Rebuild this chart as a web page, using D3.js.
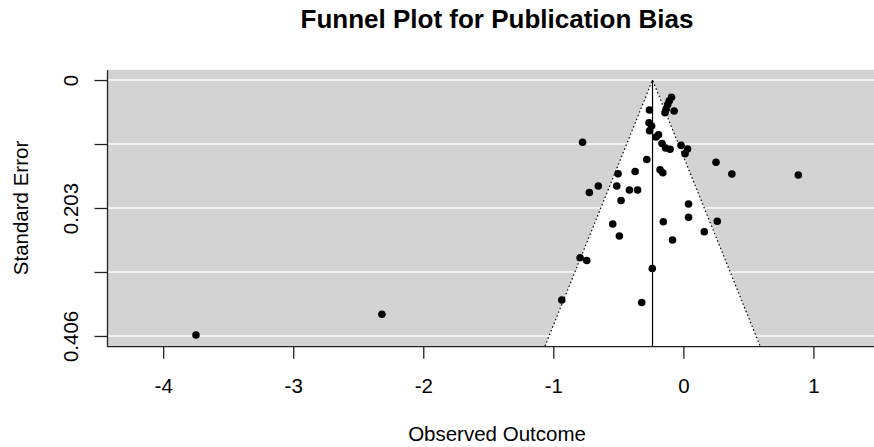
<!DOCTYPE html>
<html lang="en">
    <head>
        <meta charset="UTF-8" />
        <title>Funnel Plot for Publication Bias</title>
        <script src="https://cdn.jsdelivr.net/npm/d3@7/dist/d3.min.js"></script>
        <style>
            body { margin: 0; padding: 0; background: #fff; }
            text { font-family: 'Liberation Sans', Arial, sans-serif; fill: #000; }
            .title { font-size: 26px; font-weight: bold; }
            .axis-label { font-size: 20.5px; }
        </style>
    </head>
    <body>
        <svg width="874" height="447"></svg>
        <script>
            // observed outcomes (x) and their standard errors (y)
            var observedOutcome = [
                -3.748, -2.318, -0.775, -0.261, -0.091, -0.108, -0.120, -0.133,
                -0.141, -0.071, -0.264, -0.244, -0.260, -0.191, -0.210, -0.164,
                -0.137, -0.102, -0.018, 0.032, 0.013, 0.251, 0.373, 0.884,
                -0.281, -0.179, -0.158, -0.371, -0.502, -0.512, -0.654, -0.723,
                -0.415, -0.352, -0.479, 0.040, 0.040, -0.154, 0.261, -0.543,
                -0.492, 0.161, -0.083, -0.794, -0.743, -0.239, -0.935, -0.320
            ];
            var standardError = [
                0.4044, 0.3716, 0.0988, 0.0476, 0.0274, 0.0328, 0.0389, 0.0465,
                0.0518, 0.0492, 0.0677, 0.0730, 0.0804, 0.0868, 0.0904, 0.1007,
                0.1078, 0.1099, 0.1036, 0.1094, 0.1169, 0.1305, 0.1491, 0.1507,
                0.1261, 0.1423, 0.1470, 0.1451, 0.1486, 0.1681, 0.1681, 0.1784,
                0.1745, 0.1745, 0.1911, 0.1967, 0.2178, 0.2247, 0.2241, 0.2284,
                0.2474, 0.2406, 0.2538, 0.2820, 0.2863, 0.2990, 0.3489, 0.3529
            ];
            var pooledEstimate = -0.237;
            var xTicks = [-4, -3, -2, -1, 0, 1];
            var yTicks = [0, 0.1015, 0.203, 0.3045, 0.406];
            var yTickLabels = ['0', '', '0.203', '', '0.406'];

            var svg = d3.select('svg'),
                plotLeft = 107, plotRight = 874, plotTop = 69.8, plotBottom = 346.2;

            var x = d3.scaleLinear().domain([-4.432, 1.466]).range([plotLeft, plotRight]);
            var y = d3.scaleLinear().domain([-0.01624, 0.42224]).range([plotTop, plotBottom]);
            var seMax = y.domain()[1];

            // grey panel
            svg.append('rect')
                .attr('x', plotLeft).attr('y', plotTop)
                .attr('width', plotRight - plotLeft).attr('height', plotBottom - plotTop)
                .attr('fill', '#d3d3d3');

            // horizontal white grid lines
            svg.append('g').selectAll('line').data(yTicks).join('line')
                .attr('x1', plotLeft).attr('x2', plotRight)
                .attr('y1', d => y(d)).attr('y2', d => y(d))
                .attr('stroke', '#fff').attr('stroke-width', 1.6);

            // white funnel region
            var funnel = [
                [pooledEstimate - 1.96 * seMax, seMax],
                [pooledEstimate, 0],
                [pooledEstimate + 1.96 * seMax, seMax]
            ];
            var funnelLine = d3.line().x(d => x(d[0])).y(d => y(d[1]));
            svg.append('path')
                .attr('d', funnelLine(funnel) + 'Z')
                .attr('fill', '#fff');
            svg.append('path')
                .attr('d', funnelLine(funnel))
                .attr('fill', 'none')
                .attr('stroke', '#000')
                .attr('stroke-width', 1.2)
                .attr('stroke-dasharray', '1.5,2.5');

            // reference line at the pooled estimate
            svg.append('line')
                .attr('x1', x(pooledEstimate)).attr('x2', x(pooledEstimate))
                .attr('y1', y(0)).attr('y2', y(seMax))
                .attr('stroke', '#000').attr('stroke-width', 1.2);

            // study points
            svg.append('g').selectAll('circle').data(observedOutcome).join('circle')
                .attr('cx', d => x(d))
                .attr('cy', (d, i) => y(standardError[i]))
                .attr('r', 3.8)
                .attr('fill', '#000');

            // axes (L-shaped box)
            var xAxis = svg.append('g')
                .attr('transform', 'translate(0,' + plotBottom + ')')
                .call(d3.axisBottom(x).tickValues(xTicks).tickSize(12.5).tickSizeOuter(0).tickPadding(20)
                    .tickFormat(d => d < 0 ? '-' + Math.abs(d) : String(d)));
            xAxis.select('.domain').attr('stroke', '#222').attr('stroke-width', 1.3);
            xAxis.selectAll('.tick line').attr('stroke', '#222').attr('stroke-width', 1.3);
            xAxis.selectAll('.tick text')
                .attr('fill', '#000')
                .style('font-family', "'Liberation Sans', Arial, sans-serif")
                .style('font-size', '20.5px');

            var yAxis = svg.append('g')
                .attr('transform', 'translate(' + plotLeft + ',0)')
                .call(d3.axisLeft(y).tickValues(yTicks).tickSize(12.5).tickSizeOuter(0)
                    .tickFormat((d, i) => yTickLabels[i]));
            yAxis.select('.domain').attr('stroke', '#222').attr('stroke-width', 1.3);
            yAxis.selectAll('.tick line').attr('stroke', '#222').attr('stroke-width', 1.3);
            yAxis.selectAll('.tick text')
                .attr('fill', '#000')
                .style('font-family', "'Liberation Sans', Arial, sans-serif")
                .style('font-size', '20.5px')
                .attr('x', null).attr('dy', null).attr('y', 0)
                .attr('text-anchor', 'middle')
                .attr('transform', 'translate(-29,0) rotate(-90)');

            // titles
            svg.append('text').attr('class', 'title')
                .attr('x', 497).attr('y', 28)
                .attr('text-anchor', 'middle')
                .text('Funnel Plot for Publication Bias');

            svg.append('text').attr('class', 'axis-label')
                .attr('x', 497).attr('y', 441)
                .attr('text-anchor', 'middle')
                .text('Observed Outcome');

            svg.append('text').attr('class', 'axis-label')
                .attr('transform', 'translate(28,' + (plotTop + plotBottom) / 2 + ') rotate(-90)')
                .attr('text-anchor', 'middle')
                .text('Standard Error');
        </script>
    </body>
</html>
